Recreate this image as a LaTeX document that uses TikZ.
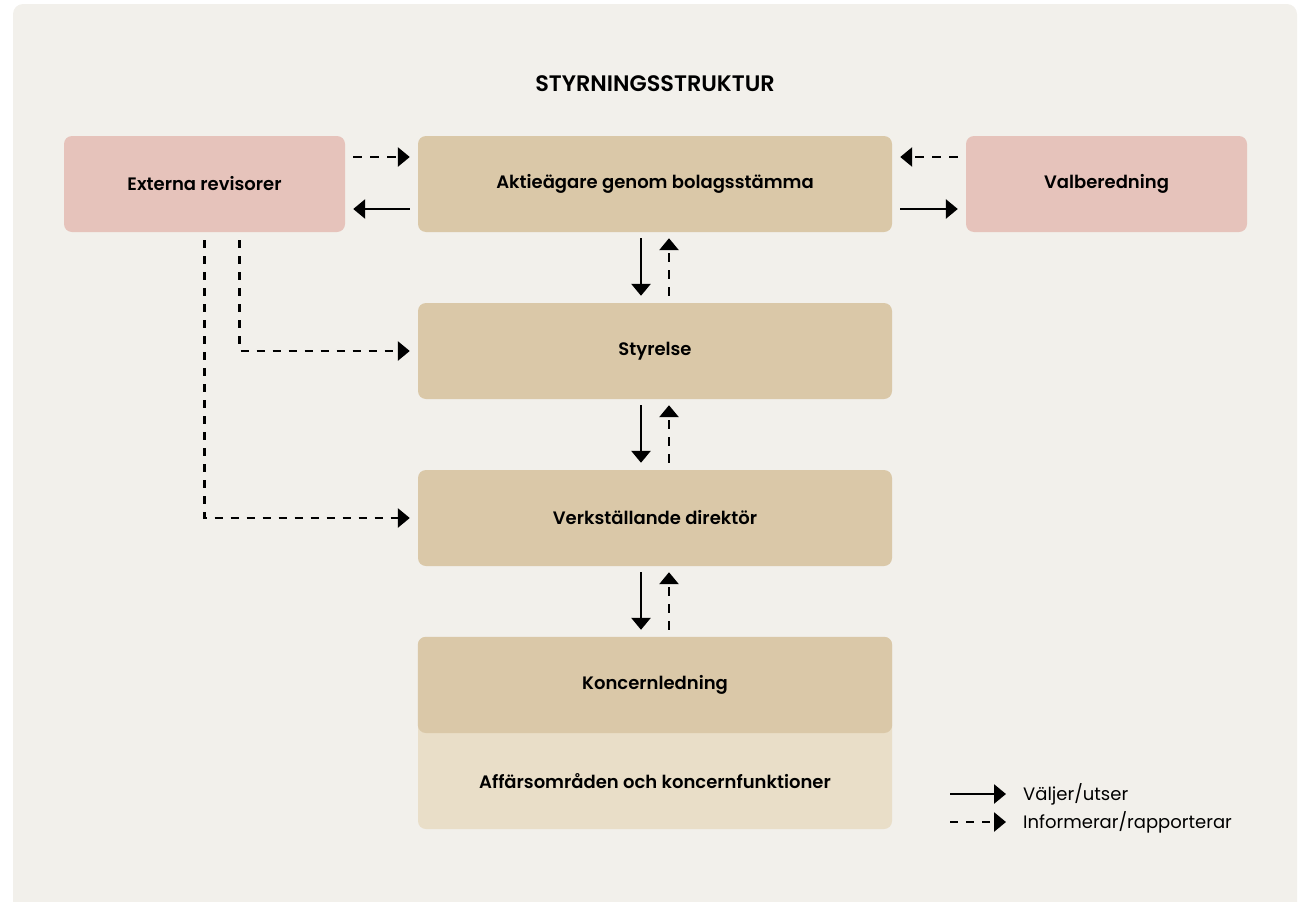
\documentclass[tikz,border=0pt]{standalone}
\usepackage{fontspec}
\setmainfont{Poppins}[BoldFont={Poppins SemiBold}]
\usetikzlibrary{arrows.meta}
\definecolor{BG}{RGB}{242, 240, 235}
\definecolor{P}{RGB}{230, 195, 187}
\definecolor{T}{RGB}{218, 200, 168}
\definecolor{L}{RGB}{233, 222, 200}

\tikzset{
  box/.style={rounded corners=8pt, minimum width=474pt, minimum height=96pt,
    inner sep=0pt, font=\bfseries\fontsize{18}{21}\selectfont},
  sidebox/.style={box, minimum width=281pt, fill=P},
  choose/.style={line width=2.8pt, shorten <=8pt, shorten >=8pt,
    -{Triangle[length=12pt,width=19pt]}},
  inform/.style={choose, dash pattern=on 9pt off 8pt},
  legend/.style={anchor=west, inner sep=0pt, font=\fontsize{18}{21}\selectfont},
}

\begin{document}
\begin{tikzpicture}[x=1pt, y=-1pt]
  \useasboundingbox (0,0) rectangle (1301,902);
  \fill[BG] (13,920) [rounded corners=10pt] |- (655,4) -| (1297,920) -- cycle;
  \node[font=\bfseries\fontsize{22.4}{26}\selectfont] (title) at (655,84) {STYRNINGSSTRUKTUR};

  % top row
  \node[sidebox] (ext) at (204.5,184) {Externa revisorer};
  \node[box, fill=T] (akt) at (655,184) {Aktieägare genom bolagsstämma};
  \node[sidebox] (val) at (1106.5,184) {Valberedning};

  % middle column
  \node[box, fill=T] (sty) at (655,351) {Styrelse};
  \node[box, fill=T] (vd) at (655,518) {Verkställande direktör};
  \node[box, fill=L, minimum height=192pt] (grp) at (655,733) {};
  \fill[T] (grp.west) [rounded corners=8pt] |- (grp.north) -| (grp.east) -- cycle;
  \node[font=\bfseries\fontsize{18}{21}\selectfont] (kl) at (655,685) {Koncernledning};
  \node[font=\bfseries\fontsize{18}{21}\selectfont] (aff) at (655,781) {Affärsområden och koncernfunktioner};

  % horizontal arrows
  \draw[inform] ([yshift=27pt]ext.east) -- ([yshift=27pt]akt.west);
  \draw[choose] ([yshift=-25pt]akt.west) -- ([yshift=-25pt]ext.east);
  \draw[inform] ([yshift=27pt]val.west) -- ([yshift=27pt]akt.east);
  \draw[choose] ([yshift=-25pt]akt.east) -- ([yshift=-25pt]val.west);

  % vertical arrows
  \draw[choose, shorten <=6pt, shorten >=7pt] ([xshift=-14pt]akt.south) -- ([xshift=-14pt]sty.north);
  \draw[inform, shorten <=7pt, shorten >=6pt] ([xshift=14pt]sty.north) -- ([xshift=14pt]akt.south);
  \draw[choose, shorten <=6pt, shorten >=7pt] ([xshift=-14pt]sty.south) -- ([xshift=-14pt]vd.north);
  \draw[inform, shorten <=7pt, shorten >=6pt] ([xshift=14pt]vd.north) -- ([xshift=14pt]sty.south);
  \draw[choose, shorten <=6pt, shorten >=7pt] ([xshift=-14pt]vd.south) -- ([xshift=-14pt]grp.north);
  \draw[inform, shorten <=7pt, shorten >=6pt] ([xshift=14pt]grp.north) -- ([xshift=14pt]vd.south);

  % auditors
  \draw[inform, dash pattern=on 8pt off 8pt] ([xshift=35pt]ext.south) |- (sty.west);
  \draw[inform, dash pattern=on 8pt off 8pt] (ext.south) |- (vd.west);

  % legend
  \node[legend] (lchoose) at (1023,794) {Väljer/utser};
  \node[legend] (linform) at (1023,822) {Informerar/rapporterar};
  \coordinate (c1) at (950,794);
  \coordinate (c2) at (950,822);
  \draw[choose, shorten <=0pt, shorten >=17pt] (c1) -- (lchoose.west);
  \draw[inform, dash pattern=on 8pt off 8pt, shorten <=0pt, shorten >=17pt] (c2) -- (linform.west);
\end{tikzpicture}
\end{document}
